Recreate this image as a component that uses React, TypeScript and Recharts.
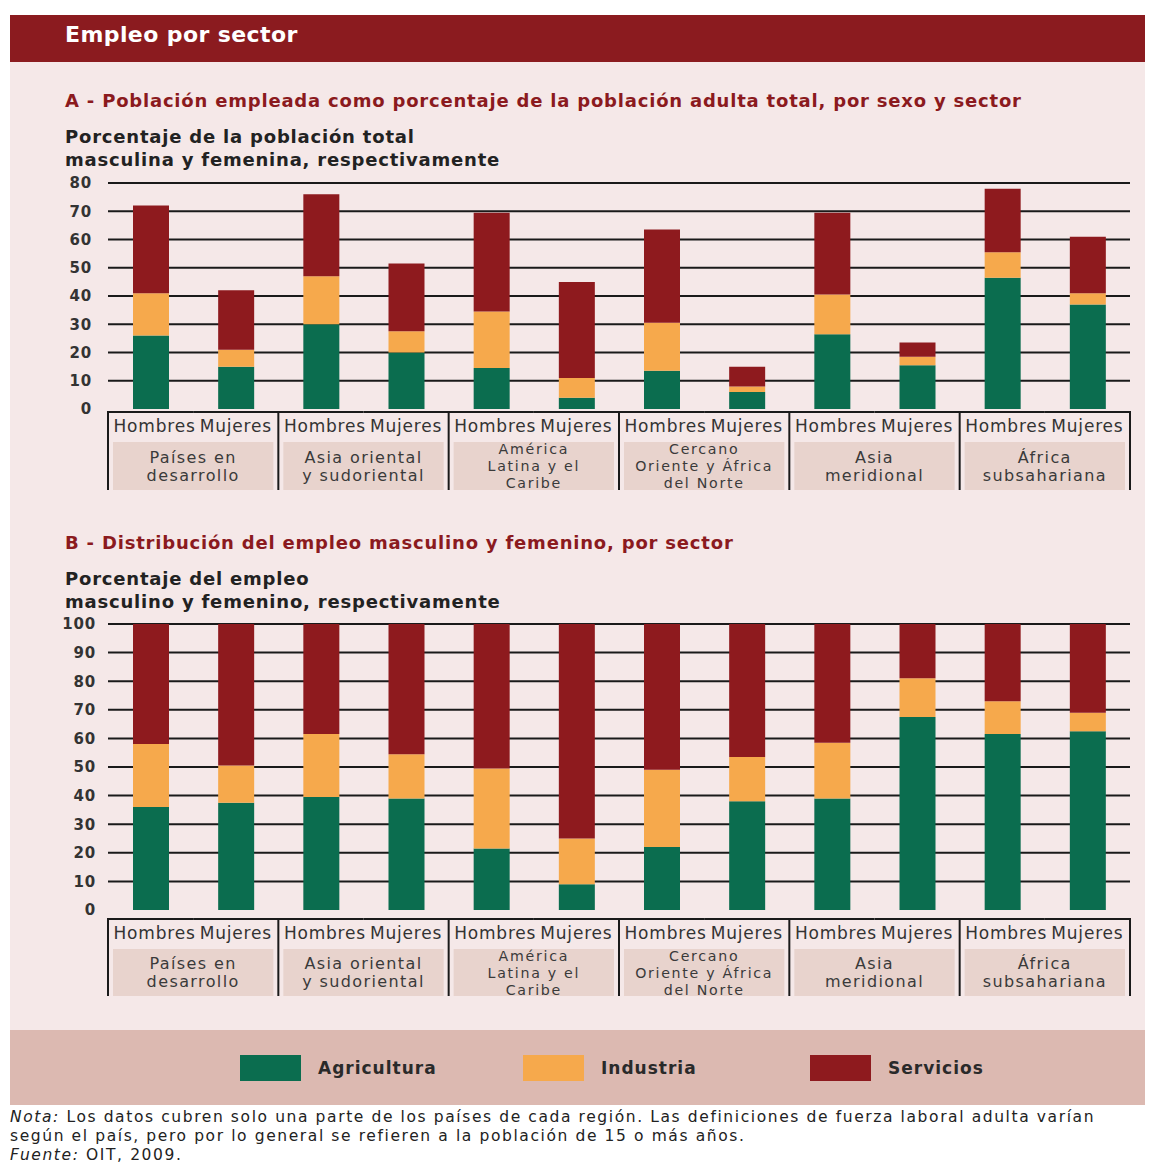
import React from "react";
import { BarChart, Bar, XAxis, YAxis, CartesianGrid } from "recharts";

// ---------- data ----------
const REGIONS = [
  "Países en desarrollo",
  "Asia oriental y sudoriental",
  "América Latina y el Caribe",
  "Cercano Oriente y África del Norte",
  "Asia meridional",
  "África subsahariana",
];
const REGION_LINES = [
  ["Países en", "desarrollo"],
  ["Asia oriental", "y sudoriental"],
  ["América", "Latina y el", "Caribe"],
  ["Cercano", "Oriente y África", "del Norte"],
  ["Asia", "meridional"],
  ["África", "subsahariana"],
];
const SEXES = ["Hombres", "Mujeres"];
const SECTORS = ["Agricultura", "Industria", "Servicios"];

// Panel A: % of total adult population (men / women) employed, by sector
const A_AGRI = [26, 15, 30, 20, 14.5, 4, 13.5, 6, 26.5, 15.5, 46.5, 37];
const A_IND = [15, 6, 17, 7.5, 20, 7, 17, 2, 14, 3, 9, 4];
const A_SERV = [31, 21, 29, 24, 35, 34, 33, 7, 29, 5, 22.5, 20];
const A_TICKS = [0, 10, 20, 30, 40, 50, 60, 70, 80];

// Panel B: distribution of male / female employment by sector
const B_AGRI = [36, 37.5, 39.5, 39, 21.5, 9, 22, 38, 39, 67.5, 61.5, 62.5];
const B_IND = [22, 13, 22, 15.5, 28, 16, 27, 15.5, 19.5, 13.5, 11.5, 6.5];
const B_SERV = [42, 49.5, 38.5, 45.5, 50.5, 75, 51, 46.5, 41.5, 19, 27, 31];
const B_TICKS = [0, 10, 20, 30, 40, 50, 60, 70, 80, 90, 100];

// ---------- styles ----------
const FONT = '"DejaVu Sans", "Open Sans", sans-serif';
const SECTOR_COLORS = ["#0b6d4f", "#f6a94c", "#8e1a1e"];
const SECTOR_KEYS = ["agri", "ind", "serv"];
const HEADER_BG = "#8b1b1f";
const PANEL_BG = "#f5e8e8";
const LEGEND_BG = "#dcb9b1";
const BOX_BG = "#e8d3cd";
const LINE = "#1a1a1a";
const TITLE_RED = "#8b1a1e";

const CHART_W = 1151;
const PLOT_LEFT = 108;
const PLOT_RIGHT_MARGIN = 21;
const PLOT_W = CHART_W - PLOT_LEFT - PLOT_RIGHT_MARGIN;

function buildRows(agri: number[], ind: number[], serv: number[]) {
  const rows: any[] = [];
  REGIONS.forEach((region, r) => {
    SEXES.forEach((sex, s) => {
      const i = r * SEXES.length + s;
      rows.push({ key: `${r}-${s}`, region, sex, agri: agri[i], ind: ind[i], serv: serv[i] });
    });
  });
  return rows;
}

const DATA_A = buildRows(A_AGRI, A_IND, A_SERV);
const DATA_B = buildRows(B_AGRI, B_IND, B_SERV);

function makeXTick(gap: number, boxH: number) {
  const n = REGIONS.length * SEXES.length;
  const bw = PLOT_W / n;
  return (props: any) => {
    const { x, y, index } = props;
    const top = y + gap;
    const s = index % SEXES.length;
    const r = Math.floor(index / SEXES.length);
    const left = x - bw / 2;
    const parts: any[] = [];
    parts.push(
      <line key="t" x1={left} x2={left + bw} y1={top} y2={top} stroke={LINE} strokeWidth={2} />
    );
    if (s === 0) {
      const gw = bw * SEXES.length;
      const lines = REGION_LINES[r];
      const three = lines.length > 2;
      const rectTop = top + 30;
      const rectH = boxH - 30;
      const lh = three ? 17 : 18;
      const cy = rectTop + rectH / 2 - ((lines.length - 1) * lh) / 2;
      parts.push(
        <rect key="bg" x={left + 5} y={rectTop} width={gw - 10} height={rectH} fill={BOX_BG} />
      );
      parts.push(
        <line key="l" x1={left} x2={left} y1={top - 1} y2={top + boxH} stroke={LINE} strokeWidth={2} />
      );
      lines.forEach((ln, k) => {
        parts.push(
          <text
            key={`r${k}`}
            x={left + gw / 2}
            y={cy + k * lh}
            dy="0.36em"
            textAnchor="middle"
            fontFamily={FONT}
            fontSize={three ? 14.2 : 16}
            letterSpacing={three ? 1.7 : 1.4}
            fill="#3a3a3a"
          >
            {ln}
          </text>
        );
      });
    }
    if (index === n - 1) {
      parts.push(
        <line key="rr" x1={left + bw} x2={left + bw} y1={top - 1} y2={top + boxH} stroke={LINE} strokeWidth={2} />
      );
    }
    parts.push(
      <text
        key="sx"
        x={x + (s === 0 ? 4 : 0)}
        y={top + 14}
        dy="0.36em"
        textAnchor="middle"
        fontFamily={FONT}
        fontSize={17}
        letterSpacing={0.8}
        fill="#333"
      >
        {SEXES[s]}
      </text>
    );
    return <g>{parts}</g>;
  };
}

const yTick = (props: any) => {
  const { x, y, payload } = props;
  return (
    <text x={x} y={y} dy="0.36em" textAnchor="end" fontFamily={FONT} fontSize={15} fontWeight="bold" letterSpacing={0.8} fill="#333">
      {payload.value}
    </text>
  );
};

function StackChart(props: {
  data: any[];
  ticks: number[];
  height: number;
  top: number;
  plotH: number;
  gap: number;
  boxH: number;
  labelGap: number;
}) {
  const { data, ticks, height, top, plotH, gap, boxH, labelGap } = props;
  const max = ticks[ticks.length - 1];
  const axisH = height - top - plotH;
  return (
    <BarChart
      width={CHART_W}
      height={height}
      data={data}
      margin={{ top, right: PLOT_RIGHT_MARGIN, left: 0, bottom: 0 }}
      barCategoryGap={0}
    >
      <CartesianGrid
        vertical={false}
        stroke={LINE}
        strokeWidth={2}
        horizontalValues={ticks.filter((t) => t !== 0)}
      />
      <XAxis
        dataKey="key"
        interval={0}
        height={axisH}
        axisLine={false}
        tickLine={false}
        tickSize={0}
        tickMargin={0}
        tick={makeXTick(gap, boxH)}
      />
      <YAxis
        width={PLOT_LEFT}
        domain={[0, max]}
        ticks={ticks}
        interval={0}
        axisLine={false}
        tickLine={false}
        tickSize={0}
        tickMargin={labelGap}
        tick={yTick}
      />
      {SECTOR_KEYS.map((k, i) => (
        <Bar
          key={k}
          dataKey={k}
          name={SECTORS[i]}
          stackId="s"
          fill={SECTOR_COLORS[i]}
          barSize={36}
          isAnimationActive={false}
        />
      ))}
    </BarChart>
  );
}

const abs = (left: number, top: number, extra: any = {}) => ({ position: "absolute" as const, left, top, ...extra });

export default function App() {
  const titleStyle = { fontSize: 18, fontWeight: "bold" as const, color: TITLE_RED, letterSpacing: 0.8, whiteSpace: "nowrap" as const, lineHeight: "20px" };
  const axisTitleStyle = { fontSize: 18, fontWeight: "bold" as const, color: "#222", letterSpacing: 0.8, whiteSpace: "nowrap" as const, lineHeight: "23px" };
  const legendX = [240, 523, 810];
  return (
    <div style={{ position: "absolute", left: 0, top: 0, width: 1151, height: 1167, background: "#fff", fontFamily: FONT, overflow: "hidden" }}>
      <div style={abs(10, 15, { width: 1135, height: 47, background: HEADER_BG })} />
      <div style={abs(65, 15, { height: 40, lineHeight: "40px", color: "#fff", fontWeight: "bold", fontSize: 22, letterSpacing: 0.4, whiteSpace: "nowrap" })}>
        Empleo por sector
      </div>
      <div style={abs(10, 62, { width: 1135, height: 968, background: PANEL_BG })} />

      <div style={abs(65, 91, titleStyle)}>
        A - Población empleada como porcentaje de la población adulta total, por sexo y sector
      </div>
      <div style={abs(65, 125, axisTitleStyle)}>
        Porcentaje de la población total
        <br />
        masculina y femenina, respectivamente
      </div>
      <div style={abs(0, 170)}>
        <StackChart data={DATA_A} ticks={A_TICKS} height={330} top={13} plotH={226} gap={3} boxH={78} labelGap={16} />
      </div>

      <div style={abs(65, 533, titleStyle)}>
        B - Distribución del empleo masculino y femenino, por sector
      </div>
      <div style={abs(65, 567, axisTitleStyle)}>
        Porcentaje del empleo
        <br />
        masculino y femenino, respectivamente
      </div>
      <div style={abs(0, 610)}>
        <StackChart data={DATA_B} ticks={B_TICKS} height={390} top={14} plotH={286} gap={9} boxH={77} labelGap={12} />
      </div>

      <div style={abs(10, 1030, { width: 1135, height: 75, background: LEGEND_BG })} />
      {SECTORS.map((s, i) => (
        <React.Fragment key={s}>
          <div style={abs(legendX[i], 1055, { width: 61, height: 26, background: SECTOR_COLORS[i] })} />
          <div style={abs(legendX[i] + 78, 1055, { height: 26, lineHeight: "26px", fontSize: 17, fontWeight: "bold", letterSpacing: 1, color: "#2a2a2a", whiteSpace: "nowrap" })}>
            {s}
          </div>
        </React.Fragment>
      ))}

      <div style={abs(10, 1108, { fontSize: 15.5, lineHeight: "19px", color: "#222", letterSpacing: 1.6, whiteSpace: "nowrap" })}>
        <i>Nota:</i> Los datos cubren solo una parte de los países de cada región. Las definiciones de fuerza laboral adulta varían
        <br />
        según el país, pero por lo general se refieren a la población de 15 o más años.
        <br />
        <i>Fuente:</i> OIT, 2009.
      </div>
    </div>
  );
}
